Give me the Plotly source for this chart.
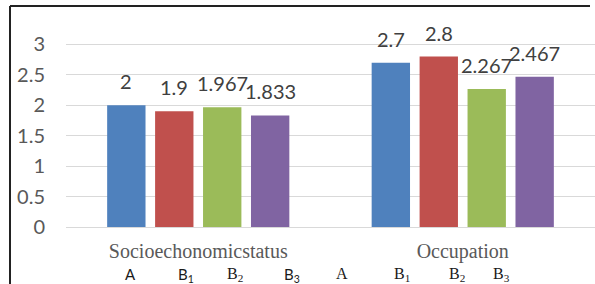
import plotly.graph_objects as go

# ---- data ----
categories = ["Socioechonomicstatus", "Occupation"]
series_names = ["A", "B1", "B2", "B3"]
values_A = [2, 2.7]
values_B1 = [1.9, 2.8]
values_B2 = [1.967, 2.267]
values_B3 = [1.833, 2.467]
y_ticks = [0, 0.5, 1, 1.5, 2, 2.5, 3]
group_labels = ["A", "B<sub>1</sub>", "B<sub>2</sub>", "B<sub>3</sub>"]

# ---- styling ----
colors = ["#4f81bd", "#c0504d", "#9bbb59", "#8064a2"]
W, H = 595, 284
ML, MR, MT, MB = 66, 0, 14, 57
BARGAP = 0.275
SLOT = (1 - BARGAP) / 4

fig = go.Figure()
all_vals = [values_A, values_B1, values_B2, values_B3]
for name, vals, c in zip(series_names, all_vals, colors):
    fig.add_trace(go.Bar(x=categories, y=vals, name=name, marker=dict(color=c, line=dict(width=0))))

annotations = []
# data labels
for si, vals in enumerate(all_vals):
    for ci, v in enumerate(vals):
        annotations.append(dict(
            x=ci + (si - 1.5) * SLOT, y=v, xref="x", yref="y",
            text=f"{v:g}", showarrow=False, yanchor="bottom", yshift=10,
            font=dict(family="Lato", size=20, color="#404040")))

# second-row labels under each group (positions in category units)
row_pos = [[-0.258, -0.046, 0.139, 0.354], [-0.458, -0.230, -0.022, 0.145]]
row_fonts = [["Lato", "Lato", "Liberation Serif", "Lato"],
             ["Liberation Serif"] * 4]
for ci in range(len(categories)):
    for li, lab in enumerate(group_labels):
        fam = row_fonts[ci][li]
        annotations.append(dict(
            x=ci + row_pos[ci][li], y=0, xref="x", yref="paper",
            text=lab, showarrow=False, yanchor="top", yshift=-36,
            font=dict(family=fam, size=16 if fam != "Lato" else 15, color="#1a1a1a")))

pw = W - ML - MR
ph = H - MT - MB
def px_x(p):
    return (p - ML) / pw
def px_y(p):
    return (H - MB - p) / ph

shapes = [
    dict(type="line", xref="paper", yref="paper", x0=px_x(10), x1=px_x(10), y0=px_y(6), y1=px_y(290),
         line=dict(color="#222222", width=2)),
    dict(type="line", xref="paper", yref="paper", x0=px_x(10), x1=px_x(590), y0=px_y(6), y1=px_y(6),
         line=dict(color="#222222", width=2)),
]

fig.update_layout(
    width=W, height=H,
    margin=dict(l=ML, r=MR, t=MT, b=MB, autoexpand=False),
    paper_bgcolor="white", plot_bgcolor="white",
    barmode="group", bargap=BARGAP, bargroupgap=0.2,
    showlegend=False,
    annotations=annotations,
    shapes=shapes,
    xaxis=dict(
        type="category", showgrid=False, showline=False, zeroline=False,
        ticks="", ticklabelstandoff=10, automargin=False,
        tickfont=dict(family="Liberation Serif", size=20, color="#595959"),
    ),
    yaxis=dict(
        range=[0, 3.5], tickvals=y_ticks, ticktext=[f"{t:g}" for t in y_ticks],
        showgrid=True, gridcolor="#d9d9d9", gridwidth=1,
        zeroline=True, zerolinecolor="#d9d9d9", zerolinewidth=1,
        showline=False, ticks="", ticklabelstandoff=20, automargin=False,
        tickfont=dict(family="Lato", size=20, color="#595959"),
    ),
)

fig.write_html("out.html", config={"displayModeBar": False},
               post_script="document.body.style.margin='0';document.body.style.overflow='hidden';")
